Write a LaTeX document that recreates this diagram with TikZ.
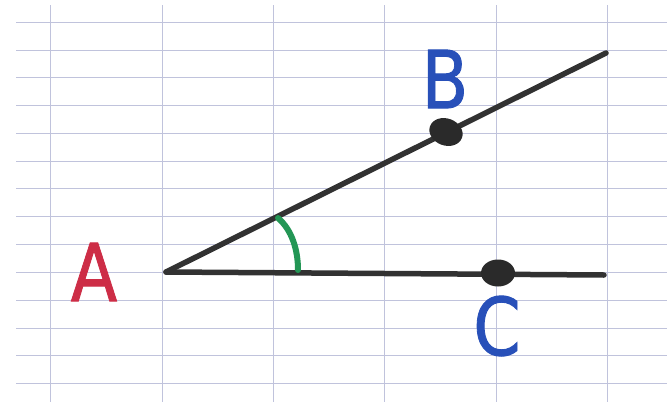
\documentclass[tikz,border=0pt]{standalone}
\usepackage{fontspec}
\setmainfont{DejaVu Sans}
\newfontfamily\markerfont[FakeBold=1.2]{DejaVu Sans}
\usetikzlibrary{shapes.geometric}
\definecolor{gridc}{RGB}{192,195,220}
\definecolor{penred}{RGB}{205,45,70}
\definecolor{penblue}{RGB}{40,80,185}
\definecolor{pengreen}{RGB}{35,150,85}
\definecolor{pencil}{RGB}{50,50,50}
\tikzset{
  gridline/.style={draw=gridc, line width=1pt},
  ray/.style={draw=pencil, line width=5.5pt, line cap=round},
  ptdot/.style={ellipse, fill=pencil!85!black, minimum width=34pt, minimum height=27pt, inner sep=0pt},
  lab/.style={font=\markerfont\fontsize{80}{80}\selectfont, inner sep=0pt, xscale=0.85},
}
\begin{document}
\begin{tikzpicture}[x=1pt,y=-1pt]
\useasboundingbox[fill=white] (0,0) rectangle (667,402);
% grid
\foreach \yy in {22,50,77,105,133,161,188,216,244,272,300,328,355,383}
  \draw[gridline] (16,\yy) -- (667,\yy);
\foreach \xx in {50,162,273,384,496,607}
  \draw[gridline] (\xx,5) -- (\xx,402);
% points
\coordinate (A) at (166,272);
\coordinate (Bend) at (606,53);
\coordinate (Cend) at (604,275);
\coordinate (arcT) at (278,218);
\coordinate (arcB) at (298,270);
\draw[ray] (A) -- (Bend);
\draw[ray] (A) -- (Cend);
\node[ptdot, rotate=-20] (B) at (446,132) {};
\node[ptdot] (C) at (498,273) {};
% angle arc
\draw[pengreen, line width=6pt, line cap=round] (arcT) .. controls (292,230) and (298,250) .. (arcB);
% labels
\node[lab, text=penred] (la) at (94,272) {A};
\node[lab, text=penblue] (lb) at (445,79) {B};
\node[lab, text=penblue] (lc) at (497,326) {C};
\end{tikzpicture}
\end{document}
